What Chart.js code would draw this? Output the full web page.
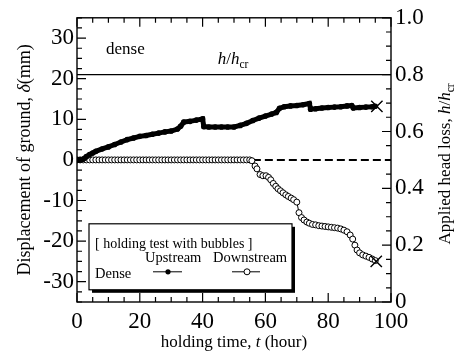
<!DOCTYPE html>
<html lang="en">
<head>
<meta charset="UTF-8">
<title>Holding test with bubbles - displacement of ground</title>
<script src="https://cdn.jsdelivr.net/npm/chart.js"></script>
<style>
  html, body { margin: 0; padding: 0; background: #fff; }
  .chart-box { position: relative; width: 462px; height: 358px; }
</style>
</head>
<body>
<div class="chart-box"><canvas id="holdingChart"></canvas></div>
<script>
// Upstream displacement (filled dots), t in hours, delta in mm
const upTime = [0, 1, 2, 3, 4, 5, 6, 8, 10, 12, 14, 16, 18, 20, 22, 24, 26, 28, 30, 32,
                33, 34, 36, 38, 40, 40.4, 42, 44, 46, 48, 50, 52, 54, 56, 58, 60, 62,
                63.5, 64.5, 66, 68, 70, 72, 74, 74.4, 76, 78, 80, 82, 84, 86, 87.5, 88, 90, 92, 94, 95];
const upDisp = [0, 0, 0.2, 0.8, 1.3, 1.7, 2.1, 2.7, 3.2, 3.8, 4.4, 5.0, 5.4, 5.8, 6.0, 6.3, 6.6, 6.9, 7.1, 7.6,
                8.3, 9.3, 9.5, 9.8, 10.1, 8.2, 8.1, 8.1, 8.1, 8.1, 8.1, 8.5, 9.0, 9.7, 10.3, 10.8, 11.3,
                11.7, 12.7, 13.1, 13.3, 13.4, 13.6, 13.9, 12.5, 12.6, 12.8, 12.9, 13.0, 13.1, 13.3, 13.4, 12.8, 12.9, 13.0, 13.1, 13.2];

// Downstream displacement (open circles)
const downTime = [0, 1, 2, 3, 4, 5, 6, 7, 8, 9, 10, 11, 12, 13, 14, 15, 16, 17, 18, 19,
                  20, 21, 22, 23, 24, 25, 26, 27, 28, 29, 30, 31, 32, 33, 34, 35, 36, 37, 38, 39,
                  40, 41, 42, 43, 44, 45, 46, 47, 48, 49, 50, 51, 52, 53, 54, 55,
                  55.7, 56.7, 57.3, 58.3, 59.2, 60.2, 61, 61.7, 62.5, 63.3,
                  64, 64.8, 65.6, 66.5, 67.3, 68.2, 69, 70, 70.7, 71.5,
                  72.3, 73.2, 74, 75, 76, 77, 78, 79, 80, 81,
                  82, 83, 84, 85, 86, 87, 87.8, 88.5, 89.2, 90,
                  91, 92, 93, 94, 95];
const downDisp = [0, 0, 0, 0, 0, 0, 0, 0, 0, 0, 0, 0, 0, 0, 0, 0, 0, 0, 0, 0,
                  0, 0, 0, 0, 0, 0, 0, 0, 0, 0, 0, 0, 0, 0, 0, 0, 0, 0, 0, 0,
                  0, 0, 0, 0, 0, 0, 0, 0, 0, 0, 0, 0, 0, 0, 0, 0,
                  -0.2, -1.5, -2.2, -3.6, -3.9, -3.9, -4.3, -4.9, -5.8, -6.5,
                  -7.1, -7.6, -8.1, -8.6, -9.0, -9.4, -9.8, -10.4, -13.0, -14.2,
                  -14.8, -15.3, -15.6, -15.9, -16.0, -16.2, -16.3, -16.4, -16.5, -16.6,
                  -16.7, -16.8, -17.0, -17.3, -17.7, -18.5, -19.5, -21.0, -22.2, -22.9,
                  -23.4, -23.7, -24.0, -24.4, -24.8];

// end of test markers (x)
const endTime = [95.5, 95.3];
const endDisp = [13.2, -25.0];

// applied head loss h/hcr (right axis) and zero reference line
const headTime = [0, 100];
const headRatio = [0.8, 0.8];
const zeroTime = [56, 100];
const zeroDisp = [0, 0];

// tick labels
const leftTickLabels = [-30, -20, -10, 0, 10, 20, 30];
const rightTickLabels = [0, 0.2, 0.4, 0.6, 0.8, 1.0];
const bottomTickLabels = [0, 20, 40, 60, 80, 100];

const SERIF = '"Liberation Serif", "Times New Roman", serif';
Chart.defaults.font.family = SERIF;
Chart.defaults.color = '#000';
const tickFont = { family: SERIF, size: 23 };

function pts(xs, ys) {
    return xs.map((x, i) => ({ x: x, y: ys[i] }));
}
function near(a, b) { return Math.abs(a - b) < 1e-6; }

// draw a run of text pieces (italic / subscript) centred on x
function drawRuns(ctx, runs, cx, y, size) {
    const fontOf = r => (r.i ? 'italic ' : '') + (r.sub ? size * 0.68 : size) + 'px ' + SERIF;
    let total = 0;
    runs.forEach(r => { ctx.font = fontOf(r); total += ctx.measureText(r.t).width; });
    let x = cx - total / 2;
    ctx.textAlign = 'left';
    ctx.textBaseline = 'alphabetic';
    runs.forEach(r => {
        ctx.font = fontOf(r);
        ctx.fillText(r.t, x, y + (r.sub ? size * 0.22 : 0));
        x += ctx.measureText(r.t).width;
    });
}

const decorPlugin = {
    id: 'decor',
    afterDraw(chart) {
        const ctx = chart.ctx;
        const a = chart.chartArea;
        const xs = chart.scales.x, ys = chart.scales.y, y2 = chart.scales.y2;
        ctx.save();
        ctx.strokeStyle = '#000';
        ctx.fillStyle = '#000';
        ctx.lineWidth = 1.2;

        // inward tick marks
        ctx.beginPath();
        xs.ticks.forEach(t => {
            const px = xs.getPixelForValue(t.value);
            const len = bottomTickLabels.some(v => near(v, t.value)) ? 9 : 5;
            ctx.moveTo(px, a.bottom); ctx.lineTo(px, a.bottom - len);
            ctx.moveTo(px, a.top); ctx.lineTo(px, a.top + len);
        });
        ys.ticks.forEach(t => {
            const py = ys.getPixelForValue(t.value);
            const len = leftTickLabels.some(v => near(v, t.value)) ? 9 : 5;
            ctx.moveTo(a.left, py); ctx.lineTo(a.left + len, py);
        });
        y2.ticks.forEach(t => {
            const py = y2.getPixelForValue(t.value);
            const len = rightTickLabels.some(v => near(v, t.value)) ? 9 : 5;
            ctx.moveTo(a.right, py); ctx.lineTo(a.right - len, py);
        });
        ctx.stroke();

        // frame
        ctx.lineWidth = 1.4;
        ctx.strokeRect(a.left, a.top, a.right - a.left, a.bottom - a.top);

        // axis titles
        drawRuns(ctx, [{ t: 'holding time, ' }, { t: 't', i: true }, { t: ' (hour)' }],
                 (a.left + a.right) / 2, a.bottom + 45, 17);

        ctx.save();
        ctx.translate(30, (a.top + a.bottom) / 2);
        ctx.rotate(-Math.PI / 2);
        drawRuns(ctx, [{ t: 'Displacement of ground, ' }, { t: 'δ', i: true }, { t: '(mm)' }], 0, 0, 18);
        ctx.restore();

        ctx.save();
        ctx.translate(a.right + 59, (a.top + a.bottom) / 2 + 4);
        ctx.rotate(-Math.PI / 2);
        drawRuns(ctx, [{ t: 'Applied head loss, ' }, { t: 'h', i: true }, { t: '/' }, { t: 'h', i: true }, { t: 'cr', sub: true }],
                 0, 0, 17);
        ctx.restore();

        // in-plot labels
        ctx.font = '17px ' + SERIF;
        ctx.textAlign = 'left';
        ctx.fillText('dense', a.left + 29, a.top + 36);
        drawRuns(ctx, [{ t: 'h', i: true }, { t: '/' }, { t: 'h', i: true }, { t: 'cr', sub: true }],
                 a.left + 156, a.top + 46, 17);

        // legend box with shadow
        const bx = a.left + 12, by = a.top + 206, bw = 203, bh = 66;
        ctx.fillRect(bx + 3, by + 3, bw, bh);
        ctx.fillStyle = '#fff';
        ctx.fillRect(bx, by, bw, bh);
        ctx.lineWidth = 1.2;
        ctx.strokeRect(bx, by, bw, bh);
        ctx.fillStyle = '#000';
        ctx.font = '14px ' + SERIF;
        ctx.fillText('[ holding test with bubbles ]', bx + 6, by + 24);
        ctx.font = '14.5px ' + SERIF;
        ctx.fillText('Upstream', bx + 56, by + 38);
        ctx.fillText('Downstream', bx + 124, by + 38);
        ctx.fillText('Dense', bx + 6, by + 54);
        const ly = by + 48;
        ctx.lineWidth = 1;
        ctx.beginPath();
        ctx.moveTo(bx + 64, ly); ctx.lineTo(bx + 93, ly);
        ctx.moveTo(bx + 143, ly); ctx.lineTo(bx + 171, ly);
        ctx.stroke();
        ctx.beginPath();
        ctx.arc(bx + 79, ly, 2.6, 0, Math.PI * 2);
        ctx.fill();
        ctx.beginPath();
        ctx.arc(bx + 158, ly, 3, 0, Math.PI * 2);
        ctx.fillStyle = '#fff';
        ctx.fill();
        ctx.stroke();
        ctx.restore();
    }
};

new Chart(document.getElementById('holdingChart'), {
    type: 'scatter',
    data: {
        datasets: [
            {
                label: 'Upstream',
                data: pts(upTime, upDisp),
                showLine: true,
                borderColor: '#000',
                borderWidth: 5,
                backgroundColor: '#000',
                pointRadius: 2.8,
                pointBorderWidth: 0,
                yAxisID: 'y',
                order: 1
            },
            {
                label: 'Downstream',
                data: pts(downTime, downDisp),
                showLine: true,
                borderColor: '#000',
                borderWidth: 1,
                backgroundColor: '#fff',
                pointRadius: 3,
                pointBorderWidth: 1,
                pointBorderColor: '#000',
                yAxisID: 'y',
                order: 2
            },
            {
                label: 'end',
                data: pts(endTime, endDisp),
                pointStyle: 'crossRot',
                pointRadius: 8,
                pointBorderWidth: 1.4,
                borderColor: '#000',
                yAxisID: 'y',
                order: 0
            },
            {
                label: 'h/hcr',
                data: pts(headTime, headRatio),
                showLine: true,
                borderColor: '#000',
                borderWidth: 1.3,
                pointRadius: 0,
                yAxisID: 'y2',
                order: 3
            },
            {
                label: 'zero',
                data: pts(zeroTime, zeroDisp),
                showLine: true,
                borderColor: '#000',
                borderWidth: 2,
                borderDash: [8, 4],
                pointRadius: 0,
                yAxisID: 'y',
                order: 4
            }
        ]
    },
    options: {
        responsive: true,
        maintainAspectRatio: false,
        animation: false,
        layout: { padding: { top: 16, right: 0, left: 0, bottom: 0 } },
        plugins: {
            legend: { display: false },
            tooltip: { enabled: false }
        },
        scales: {
            x: {
                type: 'linear',
                min: 0, max: 100,
                grid: { display: false, drawTicks: false },
                border: { display: false },
                ticks: {
                    stepSize: 5,
                    autoSkip: false,
                    maxRotation: 0,
                    padding: 6,
                    font: tickFont,
                    callback: v => bottomTickLabels.some(b => near(b, v)) ? String(v) : ''
                },
                afterFit: s => { s.height = 56; }
            },
            y: {
                position: 'left',
                min: -35, max: 35,
                grid: { display: false, drawTicks: false },
                border: { display: false },
                ticks: {
                    stepSize: 2.5,
                    autoSkip: false,
                    padding: 3,
                    font: tickFont,
                    callback: v => leftTickLabels.some(b => near(b, v)) ? String(v) : ''
                },
                afterFit: s => { s.width = 77; }
            },
            y2: {
                position: 'right',
                min: 0, max: 1,
                grid: { display: false, drawTicks: false },
                border: { display: false },
                ticks: {
                    stepSize: 0.05,
                    autoSkip: false,
                    padding: 4,
                    font: tickFont,
                    callback: v => rightTickLabels.some(b => near(b, v)) ? (near(v, 0) ? '0' : v.toFixed(1)) : ''
                },
                afterFit: s => { s.width = 71; }
            }
        }
    },
    plugins: [decorPlugin]
});
</script>
</body>
</html>
